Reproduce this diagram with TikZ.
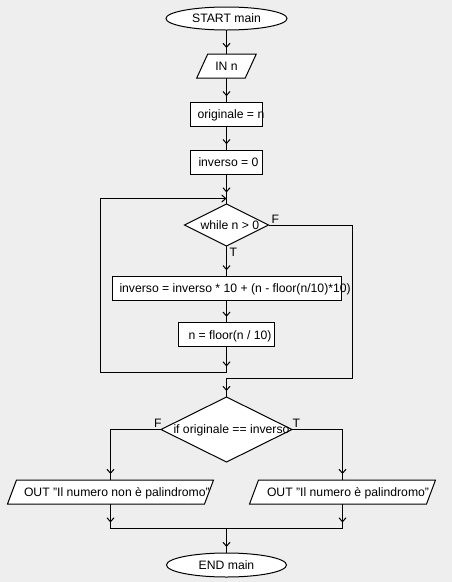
\documentclass[tikz,border=0pt]{standalone}
\usepackage{fontspec}
\setmainfont{Liberation Sans}
\usetikzlibrary{shapes.geometric,arrows.meta,decorations.markings,calc}
\begin{document}
\begin{tikzpicture}[x=1pt,y=-1pt,line width=1pt,
  font=\fontsize{12.2}{14}\selectfont,
  shp/.style={draw=black,fill=white,line width=1pt,inner sep=0pt,outer sep=0pt},
  termnode/.style={shp,ellipse},
  boxnode/.style={shp,rectangle,minimum height=24pt},
  decnode/.style={shp,diamond},
  ionode/.style={rectangle,inner sep=0pt,outer sep=0pt,minimum height=24pt},
  iopath/.style={draw=black,fill=white,line width=1pt,line join=miter},
  txt/.style={anchor=base west,inner sep=0pt,outer sep=0pt},
  ctxt/.style={anchor=base,inner sep=0pt,outer sep=0pt},
  lnk/.style={draw=black,line width=1pt},
  flow/.style={lnk,postaction={decorate},
    decoration={markings,mark=at position -6pt with {\arrow{Straight Barb[length=4pt,width=7pt,line width=1pt]}}}},
  flowend/.style={lnk,-{Straight Barb[length=4pt,width=7pt,line width=1pt]}}
]
\fill[fill={rgb,255:red,238;green,238;blue,238}] (0,0) rectangle (452,582);
\useasboundingbox (0,0) rectangle (452,582);

% shapes
\node[termnode,minimum width=121pt,minimum height=23pt] (start) at (226.5,18.5) {};
\node[ionode,minimum width=48.5pt] (in) at (226.5,66) {};
\path[iopath] ([xshift=5.5pt]in.north west) -- ([xshift=5.5pt]in.north east) -- ([xshift=-5.5pt]in.south east) -- ([xshift=-5.5pt]in.south west) -- cycle;
\node[boxnode,minimum width=72pt] (orig) at (226.5,114.2) {};
\node[boxnode,minimum width=72pt] (inv) at (226.5,162.2) {};
\node[decnode,minimum width=84pt,minimum height=42pt] (while) at (226.5,225) {};
\node[boxnode,minimum width=229pt] (body1) at (226.5,288.3) {};
\node[boxnode,minimum width=96pt] (body2) at (226.5,334.8) {};
\node[decnode,minimum width=131pt,minimum height=65pt] (if) at (226.5,429.5) {};
\node[ionode,minimum width=197pt] (outF) at (110.5,492) {};
\path[iopath] ([xshift=4.5pt]outF.north west) -- ([xshift=4.5pt]outF.north east) -- ([xshift=-4.5pt]outF.south east) -- ([xshift=-4.5pt]outF.south west) -- cycle;
\node[ionode,minimum width=177pt] (outT) at (342.5,492) {};
\path[iopath] ([xshift=4.5pt]outT.north west) -- ([xshift=4.5pt]outT.north east) -- ([xshift=-4.5pt]outT.south east) -- ([xshift=-4.5pt]outT.south west) -- cycle;
\node[termnode,minimum width=120pt,minimum height=24pt] (end) at (226.5,565) {};

% connector points
\coordinate (j1) at (226.5,198.5);
\coordinate (l1) at (226.5,372.5);
\coordinate (l2) at (100.5,372.5);
\coordinate (l3) at (100.5,198.5);
\coordinate (f1) at (352.5,225);
\coordinate (f2) at (352.5,378.5);
\coordinate (f3) at (226.5,378.5);
\coordinate (a1) at (110.5,429.5);
\coordinate (b1) at (342.5,429.5);
\coordinate (mF) at (110.5,528.5);
\coordinate (mT) at (342.5,528.5);
\coordinate (m) at (226.5,528.5);

% connectors
\draw[flow] (start) -- (in);
\draw[flow] (in) -- (orig);
\draw[flow] (orig) -- (inv);
\draw[flow] (inv) -- (j1);
\draw[lnk] (j1) -- (while);
\draw[flow] (while) -- (body1);
\draw[flow] (body1) -- (body2);
\draw[flow] (body2) -- (l1);
\draw[flowend] (l1) -- (l2) -- (l3) -- (j1);
\draw[flow] (while.east) -- (f1) -- (f2) -- (f3) -- (if.north);
\draw[flow] (if.west) -- (a1) -- (outF.north);
\draw[flow] (if.east) -- (b1) -- (outT.north);
\draw[flow] (outF) -- (mF);
\draw[flow] (outT) -- (mT);
\draw[lnk] (mF) -- (mT);
\draw[flow] (m) -- (end);

% texts
\node[ctxt] (tstart) at ($(start.center)+(0,4.3)$) {START main};
\node[ctxt] (tin) at ($(in.center)+(0,4.3)$) {IN n};
\node[txt] (torig) at ($(orig.west)+(7,4.3)$) {originale = n};
\node[txt] (tinv) at ($(inv.west)+(8,4.3)$) {inverso = 0};
\node[txt] (twhile) at ($(while.west)+(16,4.3)$) {while n > 0};
\node[txt] (tbody1) at ($(body1.west)+(7.5,4.3)$) {inverso = inverso * 10 + (n - floor(n/10)*10)};
\node[txt] (tbody2) at ($(body2.west)+(10,4.3)$) {n = floor(n / 10)};
\node[txt] (tif) at ($(if.west)+(12.5,4.3)$) {if originale == inverso};
\node[txt] (toutF) at ($(outF.west)+(12,4.3)$) {OUT "Il numero non è palindromo"};
\node[txt] (toutT) at ($(outT.west)+(13,4.3)$) {OUT "Il numero è palindromo"};
\node[ctxt] (tend) at ($(end.center)+(0,4.3)$) {END main};

% branch labels
\node[txt] (fw) at ($(while.east)+(3,-1.5)$) {F};
\node[txt] (tw) at ($(while.south)+(3,10)$) {T};
\node[txt] (fi) at ($(if.west)+(-7,-2)$) {F};
\node[txt] (ti) at ($(if.east)+(0.5,-2)$) {T};
\end{tikzpicture}
\end{document}
